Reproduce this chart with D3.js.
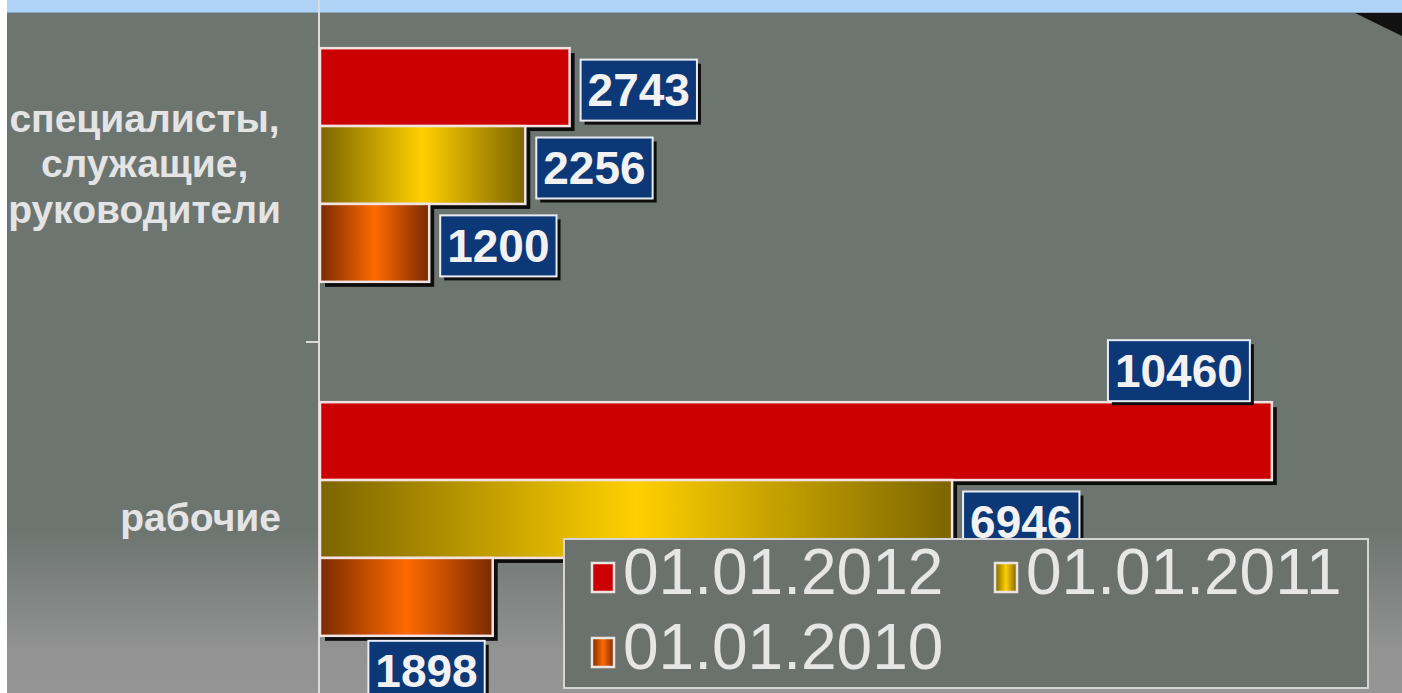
<!DOCTYPE html>
<html>
<head>
<meta charset="utf-8">
<script src="https://cdn.jsdelivr.net/npm/d3@7"></script>
<style>
  body { margin: 0; overflow: hidden; background: #ffffff; }
  text { font-family: "Liberation Sans", Arial, sans-serif; }
</style>
</head>
<body>
<div id="chart"></div>
<script>
// categories (line breaks as in the original labels)
const categories = ["специалисты,\nслужащие,\nруководители", "рабочие"];
const series = ["01.01.2012", "01.01.2011", "01.01.2010"];
const values2012 = [2743, 10460];
const values2011 = [2256, 6946];
const values2010 = [1200, 1898];

const width = 1402;
const height = 693;

const seriesValues = [values2012, values2011, values2010];
const seriesFill = ["#cc0000", "url(#gradYellow)", "url(#gradOrange)"];

let svg = d3.select("#chart")
            .append("svg")
            .attr("width", width)
            .attr("height", height);

let defs = svg.append("defs");

function hGradient(id, dark, bright) {
    let g = defs.append("linearGradient").attr("id", id)
                .attr("x1", 0).attr("x2", 1).attr("y1", 0).attr("y2", 0);
    g.append("stop").attr("offset", 0).attr("stop-color", dark);
    g.append("stop").attr("offset", 0.5).attr("stop-color", bright);
    g.append("stop").attr("offset", 1).attr("stop-color", dark);
}
hGradient("gradYellow", "#7c6500", "#ffd000");
hGradient("gradOrange", "#7a2a00", "#ff6a00");

let bg = defs.append("linearGradient").attr("id", "gradBg")
             .attr("x1", 0).attr("x2", 0).attr("y1", 0).attr("y2", 1);
bg.append("stop").attr("offset", 0).attr("stop-color", "#6d7571");
bg.append("stop").attr("offset", 0.76).attr("stop-color", "#6d7571");
bg.append("stop").attr("offset", 0.94).attr("stop-color", "#939393");
bg.append("stop").attr("offset", 1).attr("stop-color", "#959595");

// background pieces
svg.append("rect").attr("x", 0).attr("y", 0).attr("width", width).attr("height", height)
   .attr("fill", "#ffffff");
svg.append("rect").attr("x", 7).attr("y", 0).attr("width", width - 7).attr("height", 13)
   .attr("fill", "#aed3f6");
svg.append("rect").attr("x", 7).attr("y", 12).attr("width", width - 7).attr("height", 1.5)
   .attr("fill", "#8fa9c2");
svg.append("rect").attr("x", 7).attr("y", 13).attr("width", width - 7).attr("height", height - 13)
   .attr("fill", "url(#gradBg)");
svg.append("polygon").attr("points", "1355,13 1402,13 1402,36").attr("fill", "#111111");

// scales
const y0 = d3.scaleBand()
    .domain(categories)
    .range([-12, 696])
    .paddingInner(0.34)
    .paddingOuter(0.17);

const y1 = d3.scaleBand()
    .domain(series)
    .range([0, y0.bandwidth()]);

const x = d3.scaleLinear()
    .domain([0, 11000])
    .range([320, 1321]);

let rows = [];
series.forEach(function(s, si) {
    categories.forEach(function(c, ci) {
        rows.push({ series: s, si: si, category: c, value: seriesValues[si][ci] });
    });
});

// axis line with category boundary tick
svg.append("line")
   .attr("x1", 319).attr("x2", 319).attr("y1", 0).attr("y2", height)
   .attr("stroke", "#dcdcdc").attr("stroke-width", 2);
let boundary = y0(categories[1]) - y0.step() * y0.paddingInner() / 2;
svg.append("line")
   .attr("x1", 306).attr("x2", 319).attr("y1", boundary).attr("y2", boundary)
   .attr("stroke", "#dcdcdc").attr("stroke-width", 2);

// shadows first, then bars
svg.append("g").selectAll("rect")
   .data(rows).enter().append("rect")
   .attr("x", x(0) + 5)
   .attr("y", function(d) { return y0(d.category) + y1(d.series) + 5; })
   .attr("width", function(d) { return x(d.value) - x(0); })
   .attr("height", y1.bandwidth())
   .attr("fill", "#0d0d0d");

svg.append("g").selectAll("rect")
   .data(rows).enter().append("rect")
   .attr("x", x(0))
   .attr("y", function(d) { return y0(d.category) + y1(d.series); })
   .attr("width", function(d) { return x(d.value) - x(0); })
   .attr("height", y1.bandwidth())
   .attr("fill", function(d) { return seriesFill[d.si]; })
   .attr("stroke", "#f2e2e2")
   .attr("stroke-width", 2.5);

// category labels: block right-aligned, lines centred in it
categories.forEach(function(c) {
    let lines = c.split("\n");
    let center = y0(c) + y0.bandwidth() / 2;
    let g = svg.append("g");
    let texts = lines.map(function(line, i) {
        return g.append("text")
            .text(line)
            .attr("y", center + 12 + (i - (lines.length - 1) / 2) * 45.5)
            .attr("font-size", 39)
            .attr("font-weight", "bold")
            .attr("fill", "#e4e4e4")
            .attr("text-anchor", "middle");
    });
    let maxW = d3.max(texts, function(t) { return t.node().getComputedTextLength(); });
    texts.forEach(function(t) { t.attr("x", 281 - maxW / 2); });
});

// value labels
const labelPlacement = {
    "01.01.2012|рабочие": "above",
    "01.01.2010|рабочие": "below"
};
let labels = svg.append("g");
rows.forEach(function(d) {
    let place = labelPlacement[d.series + "|" + d.category] || "right";
    let barY = y0(d.category) + y1(d.series);
    let barEnd = x(d.value);
    let g = labels.append("g");
    let t = g.append("text")
        .text(d.value)
        .attr("font-size", 46)
        .attr("font-weight", "bold")
        .attr("fill", "#f2f2f2");
    let tw = t.node().getComputedTextLength();
    let bw = tw + 14, bh = 61;
    let bx, by;
    if (place === "above") {
        bx = barEnd - 22 - bw;
        by = barY - bh - 1;
    } else if (place === "below") {
        bx = barEnd - 8 - bw;
        by = barY + y1.bandwidth() + 5;
    } else {
        bx = barEnd + 11;
        by = barY + y1.bandwidth() / 2 + 3 - bh / 2;
    }
    g.insert("rect", "text")
     .attr("x", bx + 4).attr("y", by + 4).attr("width", bw).attr("height", bh)
     .attr("fill", "#0d0d0d");
    g.insert("rect", "text")
     .attr("x", bx).attr("y", by).attr("width", bw).attr("height", bh)
     .attr("fill", "#0c3878")
     .attr("stroke", "#e8ecf2").attr("stroke-width", 2);
    t.attr("x", bx + 7).attr("y", by + bh / 2 + 16);
});

// legend
let legend = svg.append("g");
legend.append("rect")
      .attr("x", 564).attr("y", 539).attr("width", 804).attr("height", 149)
      .attr("fill", "#6b726e")
      .attr("stroke", "#d4d4d4").attr("stroke-width", 2);

const legendPos = [[592, 594], [995, 594], [592, 669]];
series.forEach(function(s, i) {
    let p = legendPos[i];
    legend.append("rect")
          .attr("x", p[0]).attr("y", p[1] - 31).attr("width", 22).attr("height", 29)
          .attr("fill", seriesFill[i])
          .attr("stroke", "#ece4e0").attr("stroke-width", 2.5);
    legend.append("text")
          .text(s)
          .attr("x", p[0] + 31).attr("y", p[1])
          .attr("font-size", 64)
          .attr("fill", "#e6e6e6");
});
</script>
</body>
</html>
